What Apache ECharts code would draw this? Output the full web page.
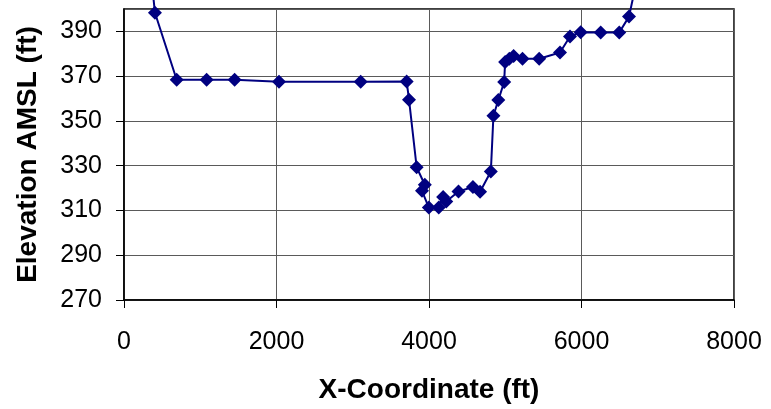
<!DOCTYPE html>
<html>
<head>
<meta charset="utf-8">
<script src="https://cdn.jsdelivr.net/npm/echarts@6/dist/echarts.min.js"></script>
<style>
  html, body { margin: 0; padding: 0; background: #fff; }
  #chart { width: 771px; height: 409px; }
</style>
</head>
<body>
<div id="chart"></div>
<script>
// Cross-section survey: horizontal position (ft) and ground elevation (ft AMSL)
var xCoord = [340, 406, 691, 1084, 1451, 2033, 3104, 3707, 3738, 3838, 3945, 3908,
  3998, 4128, 4185, 4226, 4387, 4576, 4670, 4811, 4845, 4909, 4986, 4998, 5053,
  5110, 5226, 5445, 5718, 5849, 5989, 6252, 6495, 6623, 6720];
var elevation = [420, 398.3, 368.4, 368.4, 368.4, 367.5, 367.5, 367.6, 359.5, 329.3, 321.5, 318.8,
  311.3, 311.3, 316, 314, 318.5, 320.5, 318.4, 327.4, 352.3, 359.3, 367.4, 376.3, 377.8,
  379, 377.8, 377.8, 380.6, 387.7, 389.6, 389.5, 389.5, 396.6, 412];

var xTicks = [0, 2000, 4000, 6000, 8000];
var yTicks = [270, 290, 310, 330, 350, 370, 390];

var points = xCoord.map(function (x, i) { return [x, elevation[i]]; });

var chart = echarts.init(document.getElementById('chart'), null, { renderer: 'canvas' });
var font = '"Liberation Sans", Arial, sans-serif';

chart.setOption({
  animation: false,
  backgroundColor: '#ffffff',
  grid: {
    left: 124, top: 9, width: 610, height: 293,
    show: true, borderColor: '#000', borderWidth: 1.5, backgroundColor: 'transparent'
  },
  xAxis: {
    type: 'value',
    min: xTicks[0], max: xTicks[xTicks.length - 1], interval: 2000,
    name: 'X-Coordinate (ft)', nameLocation: 'middle', nameGap: 76,
    nameTextStyle: { fontFamily: font, fontWeight: 'bold', fontSize: 28, color: '#000' },
    axisLine: { lineStyle: { color: '#000', width: 1.5 } },
    axisTick: { show: true, length: 8, lineStyle: { color: '#000' } },
    axisLabel: { margin: 30, fontFamily: font, fontSize: 25, color: '#000',
      formatter: function (v) { return String(v); } },
    splitLine: { show: true, lineStyle: { color: '#5a5a5a', width: 1 } }
  },
  yAxis: {
    type: 'value',
    min: yTicks[0], max: 400, interval: 20,
    name: 'Elevation AMSL (ft)', nameLocation: 'middle', nameGap: 82,
    nameTextStyle: { fontFamily: font, fontWeight: 'bold', fontSize: 28, color: '#000' },
    axisLine: { show: true, lineStyle: { color: '#000', width: 1.5 } },
    axisTick: { show: true, length: 8, lineStyle: { color: '#000' } },
    axisLabel: { margin: 22, fontFamily: font, fontSize: 25, color: '#000', showMaxLabel: false,
      formatter: function (v) { return String(v); } },
    splitLine: { show: true, lineStyle: { color: '#5a5a5a', width: 1 } }
  },
  series: [{
    type: 'line',
    data: points,
    smooth: false,
    clip: false,
    symbol: 'diamond',
    symbolSize: 14,
    showAllSymbol: true,
    lineStyle: { color: '#000080', width: 2 },
    itemStyle: { color: '#000080', borderWidth: 0 }
  }]
});
</script>
</body>
</html>
